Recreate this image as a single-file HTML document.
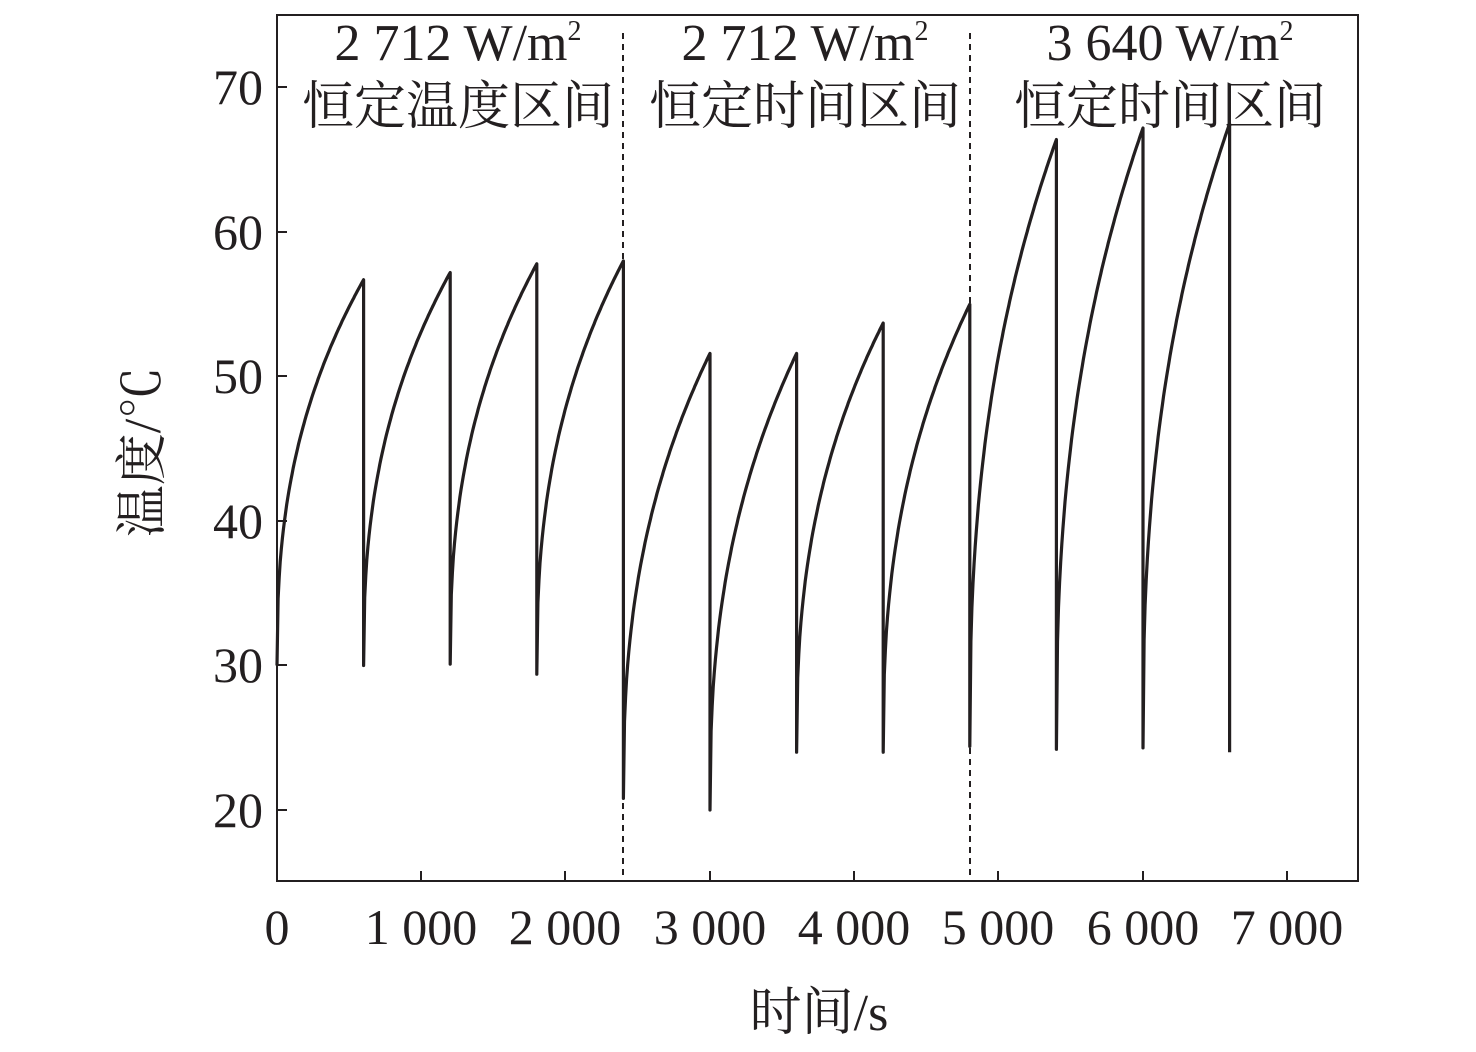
<!DOCTYPE html>
<html><head><meta charset="utf-8"><style>
body{margin:0;background:#fff}
svg text{font-family:"Liberation Serif","Noto Serif CJK SC",serif;fill:#231f20}
</style></head><body>
<svg width="1476" height="1047" viewBox="0 0 1476 1047" xmlns="http://www.w3.org/2000/svg">
<rect x="277" y="15" width="1081" height="866" fill="none" stroke="#231f20" stroke-width="2"/>
<g stroke="#231f20" stroke-width="2">
<line x1="421" y1="881" x2="421" y2="871"/><line x1="565" y1="881" x2="565" y2="871"/>
<line x1="710" y1="881" x2="710" y2="871"/><line x1="854" y1="881" x2="854" y2="871"/>
<line x1="998" y1="881" x2="998" y2="871"/><line x1="1143" y1="881" x2="1143" y2="871"/>
<line x1="1287" y1="881" x2="1287" y2="871"/>
<line x1="277" y1="810" x2="287" y2="810"/><line x1="277" y1="665" x2="287" y2="665"/>
<line x1="277" y1="521" x2="287" y2="521"/><line x1="277" y1="376" x2="287" y2="376"/>
<line x1="277" y1="232" x2="287" y2="232"/><line x1="277" y1="87" x2="287" y2="87"/>
</g>
<g stroke="#231f20" stroke-width="2" stroke-dasharray="6,5">
<line x1="623" y1="33" x2="623" y2="881"/><line x1="970" y1="33" x2="970" y2="881"/>
</g>
<g font-size="50" text-anchor="end">
<text x="263" y="827">20</text><text x="263" y="682">30</text><text x="263" y="538">40</text>
<text x="263" y="393">50</text><text x="263" y="249">60</text><text x="263" y="104">70</text>
</g>
<g font-size="50" text-anchor="middle">
<text x="277" y="944">0</text><text x="421" y="944">1 000</text><text x="565" y="944">2 000</text>
<text x="710" y="944">3 000</text><text x="854" y="944">4 000</text><text x="998" y="944">5 000</text>
<text x="1143" y="944">6 000</text><text x="1287" y="944">7 000</text>
</g>
<text x="819" y="1030" font-size="52" text-anchor="middle">时间/s</text>
<text transform="translate(160,452) rotate(-90)" font-size="52" text-anchor="middle">温度/℃</text>
<g font-size="52" text-anchor="middle">
<text x="458" y="60">2 712 W/m<tspan font-size="28" dy="-20">2</tspan></text>
<text x="458" y="124">恒定温度区间</text>
<text x="805" y="60">2 712 W/m<tspan font-size="28" dy="-20">2</tspan></text>
<text x="805" y="124">恒定时间区间</text>
<text x="1170" y="60">3 640 W/m<tspan font-size="28" dy="-20">2</tspan></text>
<text x="1170" y="124">恒定时间区间</text>
</g>
<path id="curve" fill="none" stroke="#231f20" stroke-width="3.2" stroke-linejoin="round"/>
</svg>
<script>
var X=function(t){return 277+0.14433*t},Y=function(v){return 810-(v-20)*14.45};
var segs=[[30,56.7],[30,57.2],[30.1,57.8],[29.4,58],[20.8,51.6],[20,51.6],[24,53.7],[24,55],[24.4,66.4],[24.2,67.2],[24.3,67.5]];
var d="";
segs.forEach(function(s,i){
 var t0=i*600;
 for(var k=0;k<=80;k++){
  var f=k/80, v=s[0]+(s[1]-s[0])*Math.pow(f,0.4);
  d+=(i==0&&k==0?"M":"L")+X(t0+600*f).toFixed(1)+" "+Y(v).toFixed(1)+" ";
 }
});
d+="L"+X(6600).toFixed(1)+" "+Y(24).toFixed(1);
document.getElementById("curve").setAttribute("d",d);
</script>
</body></html>
